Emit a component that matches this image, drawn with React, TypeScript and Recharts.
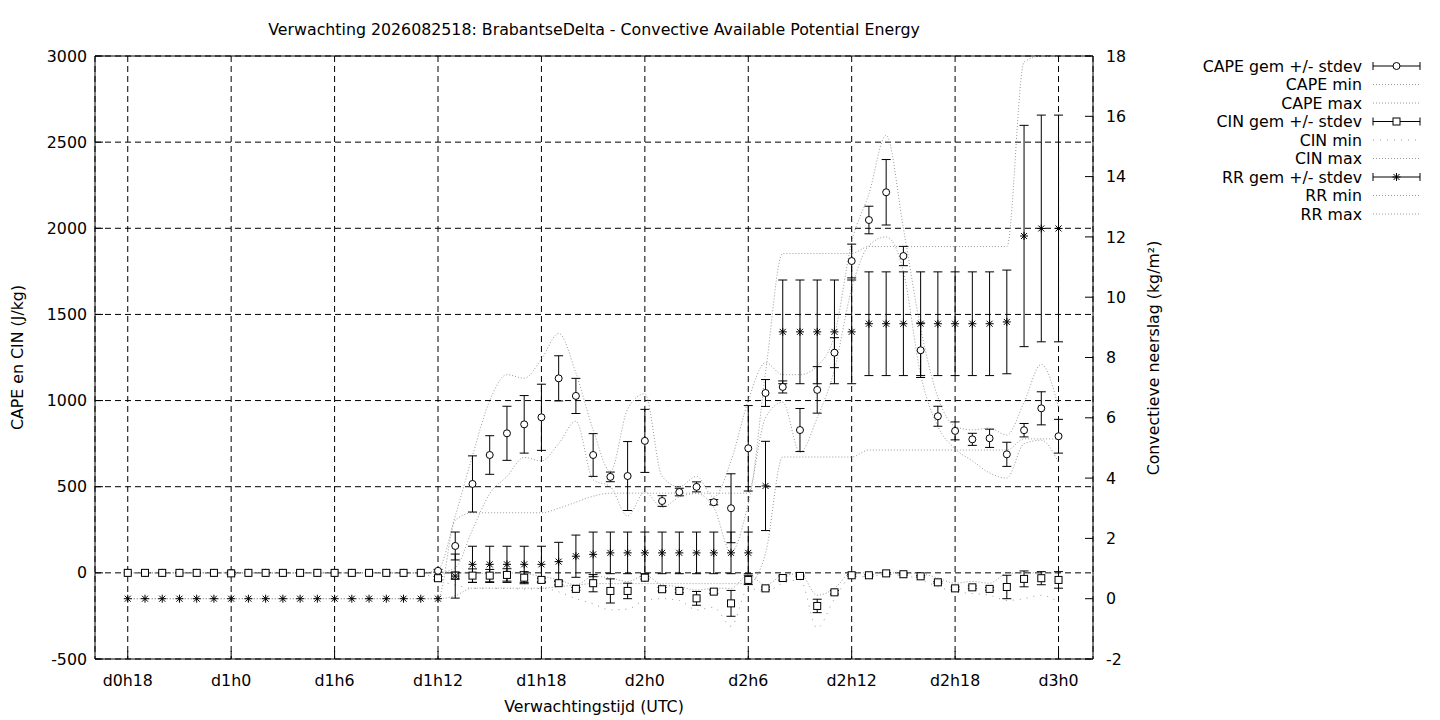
import React from 'react';
import { ComposedChart, Line, XAxis, YAxis, CartesianGrid, ErrorBar, Legend, ReferenceLine } from 'recharts';

const FONT = 'DejaVu Sans';
const FS = 15.8;

const hours = [18,19,20,21,22,23,24,25,26,27,28,29,30,31,32,33,34,35,36,37,38,39,40,41,42,43,44,45,46,47,48,49,50,51,52,53,54,55,56,57,58,59,60,61,62,63,64,65,66,67,68,69,70,71,72];
const xTicks = [18,24,30,36,42,48,54,60,66,72];
const leftTicks = [-500,0,500,1000,1500,2000,2500,3000];
const rightTicks = [-2,0,2,4,6,8,10,12,14,16,18];

const capeMean = [0,0,0,0,0,0,0,0,0,0,0,0,0,0,0,0,0,0,
  12,156,516,684,810,862,903,1129,1027,684,557,562,766,417,469,499,410,375,723,1044,1079,829,1062,1278,1810,2048,2209,1839,1292,909,824,775,781,688,828,955,793];
const capeSd = [0,0,0,0,0,0,0,0,0,0,0,0,0,0,0,0,0,0,
  8,81,163,112,157,167,192,131,102,124,28,200,183,31,22,29,15,200,248,78,35,125,135,87,98,80,190,56,158,58,52,35,53,70,39,96,98];
const capeMin = [0,0,0,0,0,0,0,0,0,0,0,0,0,0,0,0,0,0,
  0,30,250,460,560,670,650,750,880,540,500,330,470,380,440,460,380,120,400,900,990,700,900,1180,1650,1900,1950,1750,1150,850,720,650,580,550,750,770,640];
const capeMax = [0,0,0,0,0,0,0,0,0,0,0,0,0,0,0,0,0,0,
  20,330,680,1000,1150,1130,1240,1390,1160,830,590,950,1040,560,500,560,440,650,1000,1220,1150,1150,1200,1380,1920,2200,2540,2000,1420,1020,850,830,840,800,990,1210,960];

const cinMean = [0,0,0,0,0,0,-3,0,0,0,0,0,0,0,0,0,0,0,
  -31,-16,-16,-16,-12,-28,-41,-60,-93,-60,-105,-105,-28,-95,-105,-148,-109,-177,-41,-90,-30,-18,-192,-113,-14,-14,-3,-8,-20,-55,-90,-84,-93,-82,-35,-31,-41];
const cinSd = [0,0,0,0,0,0,8,0,0,0,0,0,0,0,0,0,0,0,
  10,20,39,36,36,35,10,10,8,50,70,45,8,10,10,40,10,75,27,8,12,5,39,10,5,5,5,5,5,5,8,8,8,68,46,38,48];
const cinMin = [0,0,0,0,0,0,0,0,0,0,0,0,0,0,0,0,0,0,
  -45,-70,-90,-90,-90,-95,-90,-110,-150,-180,-215,-210,-160,-150,-160,-215,-200,-310,-90,-110,-60,-40,-320,-150,-25,-20,-10,-15,-40,-80,-110,-120,-130,-160,-150,-130,-170];
const cinMax = [0,0,0,0,0,0,0,0,0,0,0,0,0,0,0,0,0,0,
  0,0,-2,-2,0,-5,-20,-40,-70,-20,-30,-50,-15,-70,-80,-100,-90,-90,-10,-70,-15,-5,-130,-90,0,0,0,0,-5,-30,-60,-50,-60,-5,0,0,0];

const rrMean = [0,0,0,0,0,0,0,0,0,0,0,0,0,0,0,0,0,0,0,
  0.75,1.14,1.14,1.14,1.14,1.14,1.23,1.41,1.47,1.52,1.52,1.52,1.52,1.52,1.52,1.52,1.52,1.52,3.74,8.85,8.85,8.85,8.85,8.85,9.12,9.12,9.12,9.12,9.12,9.12,9.12,9.12,9.18,12.03,12.28,12.28];
const rrSd = [0,0,0,0,0,0,0,0,0,0,0,0,0,0,0,0,0,0,0,
  0.73,0.6,0.6,0.6,0.6,0.6,0.64,0.7,0.74,0.69,0.69,0.69,0.69,0.69,0.69,0.69,0.69,0.69,1.48,1.72,1.72,1.72,1.72,1.72,1.72,1.72,1.72,1.72,1.72,1.72,1.72,1.72,1.72,3.67,3.76,3.76];
const rrMin = [0,0,0,0,0,0,0,0,0,0,0,0,0,0,0,0,0,0,0,
  0.1,0.35,0.35,0.35,0.35,0.35,0.4,0.45,0.5,0.5,0.5,0.5,0.5,0.5,0.5,0.5,0.5,0.5,1.5,4.7,4.7,4.7,4.7,4.7,4.93,4.93,4.93,4.93,4.93,4.93,4.93,4.93,4.93,5.3,5.3,5.3];
const rrMax = [0,0,0,0,0,0,0,0,0,0,0,0,0,0,0,0,0,0,0,
  2.6,2.85,2.85,2.85,2.85,2.85,3.0,3.2,3.4,3.5,3.5,3.5,3.5,3.5,3.5,3.5,3.5,3.5,7.5,11.45,11.45,11.45,11.45,11.45,11.68,11.68,11.68,11.68,11.68,11.68,11.68,11.68,11.68,17.8,18,18];

const title = 'Verwachting 2026082518: BrabantseDelta - Convective Available Potential Energy';
const legendItems = [
  { label: 'CAPE gem +/- stdev', kind: 'circle' },
  { label: 'CAPE min', kind: 'dot' },
  { label: 'CAPE max', kind: 'dot' },
  { label: 'CIN gem +/- stdev', kind: 'square' },
  { label: 'CIN min', kind: 'wide' },
  { label: 'CIN max', kind: 'dot' },
  { label: 'RR gem +/- stdev', kind: 'star' },
  { label: 'RR min', kind: 'dot' },
  { label: 'RR max', kind: 'dot' },
];

const table = hours.map((h, i) => ({
  h,
  capeMean: capeMean[i], capeSd: capeSd[i], capeMin: capeMin[i], capeMax: capeMax[i],
  cinMean: cinMean[i], cinSd: cinSd[i], cinMin: cinMin[i], cinMax: cinMax[i],
  rrMean: rrMean[i], rrSd: rrSd[i], rrMin: rrMin[i], rrMax: rrMax[i],
}));

const DOT = '1 2';
const WIDE = '1 6';
const DOTCOLOR = '#999';
const CAP = 4.5;

function dayLabel(h: number) {
  return `d${Math.floor(h / 24)}h${h % 24}`;
}

const XTick = (props: any) => {
  const { x, y, payload } = props;
  return (
    <text x={x} y={y} textAnchor="middle" fontFamily={FONT} fontSize={FS} fill="#000">
      {dayLabel(payload.value)}
    </text>
  );
};

const Circle = ({ cx, cy }: { cx: number; cy: number }) => (
  <circle cx={cx} cy={cy} r={3.5} fill="#fff" stroke="#000" strokeWidth={1} />
);
const Square = ({ cx, cy }: { cx: number; cy: number }) => (
  <rect x={cx - 3.5} y={cy - 3.5} width={7} height={7} fill="#fff" stroke="#000" strokeWidth={1} />
);
const Star = ({ cx, cy }: { cx: number; cy: number }) => (
  <g stroke="#000" strokeWidth={1}>
    <line x1={cx - 4} y1={cy} x2={cx + 4} y2={cy} />
    <line x1={cx} y1={cy - 4} x2={cx} y2={cy + 4} />
    <line x1={cx - 3} y1={cy - 3} x2={cx + 3} y2={cy + 3} />
    <line x1={cx - 3} y1={cy + 3} x2={cx + 3} y2={cy - 3} />
  </g>
);

const mkDot = (Comp: any) => (p: any) =>
  p.cx == null || p.cy == null ? <g key={p.index} /> : <g key={p.index}><Comp cx={p.cx} cy={p.cy} /></g>;

const LegendOverlay = () => (
  <svg width={1440} height={720} style={{ position: 'absolute', left: 0, top: 0, pointerEvents: 'none' }}>
    <text x={594} y={34.5} textAnchor="middle" fontFamily={FONT} fontSize={FS} fill="#000">{title}</text>
    {legendItems.map((it, i) => {
      const y = 66 + i * 18.5;
      const x0 = 1373, x1 = 1420, xm = (x0 + x1) / 2;
      return (
        <g key={it.label}>
          <text x={1362} y={y + 5.7} textAnchor="end" fontFamily={FONT} fontSize={FS} fill="#000">{it.label}</text>
          {it.kind === 'dot' || it.kind === 'wide' ? (
            <line x1={x0} y1={y} x2={x1} y2={y} stroke={DOTCOLOR} strokeWidth={1} strokeDasharray={it.kind === 'wide' ? WIDE : DOT} />
          ) : (
            <g>
              <line x1={x0} y1={y} x2={x1} y2={y} stroke="#000" strokeWidth={1} />
              <line x1={x0} y1={y - 4} x2={x0} y2={y + 4} stroke="#000" strokeWidth={1} />
              <line x1={x1} y1={y - 4} x2={x1} y2={y + 4} stroke="#000" strokeWidth={1} />
              {it.kind === 'circle' && <Circle cx={xm} cy={y} />}
              {it.kind === 'square' && <Square cx={xm} cy={y} />}
              {it.kind === 'star' && <Star cx={xm} cy={y} />}
            </g>
          )}
        </g>
      );
    })}
  </svg>
);

const tickStyle = { fill: '#000', fontSize: FS, fontFamily: FONT };

export default function App() {
  return (
    <div style={{ position: 'absolute', left: 0, top: 0, width: 1440, height: 720, background: '#fff' }}>
      <ComposedChart
        width={1440}
        height={720}
        data={table}
        margin={{ top: 56, right: 287, left: 35, bottom: 31 }}
      >
        <CartesianGrid yAxisId="left" stroke="#000" strokeWidth={1} strokeDasharray="6 4" />
        <XAxis
          dataKey="h"
          type="number"
          domain={[16.1, 74]}
          allowDataOverflow
          ticks={xTicks}
          height={30}
          stroke="#000"
          tickSize={-8}
          tickMargin={35}
          tick={<XTick />}
          label={{
            content: () => (
              <text x={594} y={711.5} textAnchor="middle" fontFamily={FONT} fontSize={FS} fill="#000">
                Verwachtingstijd (UTC)
              </text>
            ),
          }}
        />
        <YAxis
          yAxisId="left"
          type="number"
          domain={[-500, 3000]}
          allowDataOverflow
          ticks={leftTicks}
          width={60}
          stroke="#000"
          tickSize={-8}
          tickMargin={16}
          tick={tickStyle}
          label={{
            content: () => (
              <text transform="translate(23,357.5) rotate(-90)" textAnchor="middle" fontFamily={FONT} fontSize={FS} fill="#000">
                CAPE en CIN (J/kg)
              </text>
            ),
          }}
        />
        <YAxis
          yAxisId="right"
          orientation="right"
          type="number"
          domain={[-2, 18]}
          allowDataOverflow
          ticks={rightTicks}
          width={60}
          stroke="#000"
          tickSize={-8}
          tickMargin={21}
          tick={tickStyle}
          label={{
            content: () => (
              <text transform="translate(1159,358) rotate(-90)" textAnchor="middle" fontFamily={FONT} fontSize={FS} fill="#000">
                Convectieve neerslag (kg/m²)
              </text>
            ),
          }}
        />
        <ReferenceLine yAxisId="left" y={3000} stroke="#000" strokeWidth={1} />

        <Line yAxisId="left" type="monotone" dataKey="capeMin" stroke={DOTCOLOR} strokeWidth={1} strokeDasharray={DOT} dot={false} activeDot={false} isAnimationActive={false} />
        <Line yAxisId="left" type="monotone" dataKey="capeMax" stroke={DOTCOLOR} strokeWidth={1} strokeDasharray={DOT} dot={false} activeDot={false} isAnimationActive={false} />
        <Line yAxisId="left" type="monotone" dataKey="cinMin" stroke={DOTCOLOR} strokeWidth={1} strokeDasharray={WIDE} dot={false} activeDot={false} isAnimationActive={false} />
        <Line yAxisId="left" type="monotone" dataKey="cinMax" stroke={DOTCOLOR} strokeWidth={1} strokeDasharray={DOT} dot={false} activeDot={false} isAnimationActive={false} />
        <Line yAxisId="right" type="monotone" dataKey="rrMin" stroke={DOTCOLOR} strokeWidth={1} strokeDasharray={DOT} dot={false} activeDot={false} isAnimationActive={false} />
        <Line yAxisId="right" type="monotone" dataKey="rrMax" stroke={DOTCOLOR} strokeWidth={1} strokeDasharray={DOT} dot={false} activeDot={false} isAnimationActive={false} />

        <Line yAxisId="left" dataKey="capeMean" stroke="none" dot={mkDot(Circle)} activeDot={false} isAnimationActive={false}>
          <ErrorBar dataKey="capeSd" width={CAP} stroke="#000" strokeWidth={1} direction="y" />
        </Line>
        <Line yAxisId="left" dataKey="cinMean" stroke="none" dot={mkDot(Square)} activeDot={false} isAnimationActive={false}>
          <ErrorBar dataKey="cinSd" width={CAP} stroke="#000" strokeWidth={1} direction="y" />
        </Line>
        <Line yAxisId="right" dataKey="rrMean" stroke="none" dot={mkDot(Star)} activeDot={false} isAnimationActive={false}>
          <ErrorBar dataKey="rrSd" width={CAP} stroke="#000" strokeWidth={1} direction="y" />
        </Line>

        <Legend
          layout="horizontal"
          verticalAlign="middle"
          align="center"
          content={() => <LegendOverlay />}
          wrapperStyle={{ position: 'absolute', left: 0, top: 0, width: 1440, height: 720, pointerEvents: 'none' }}
        />
      </ComposedChart>
    </div>
  );
}
